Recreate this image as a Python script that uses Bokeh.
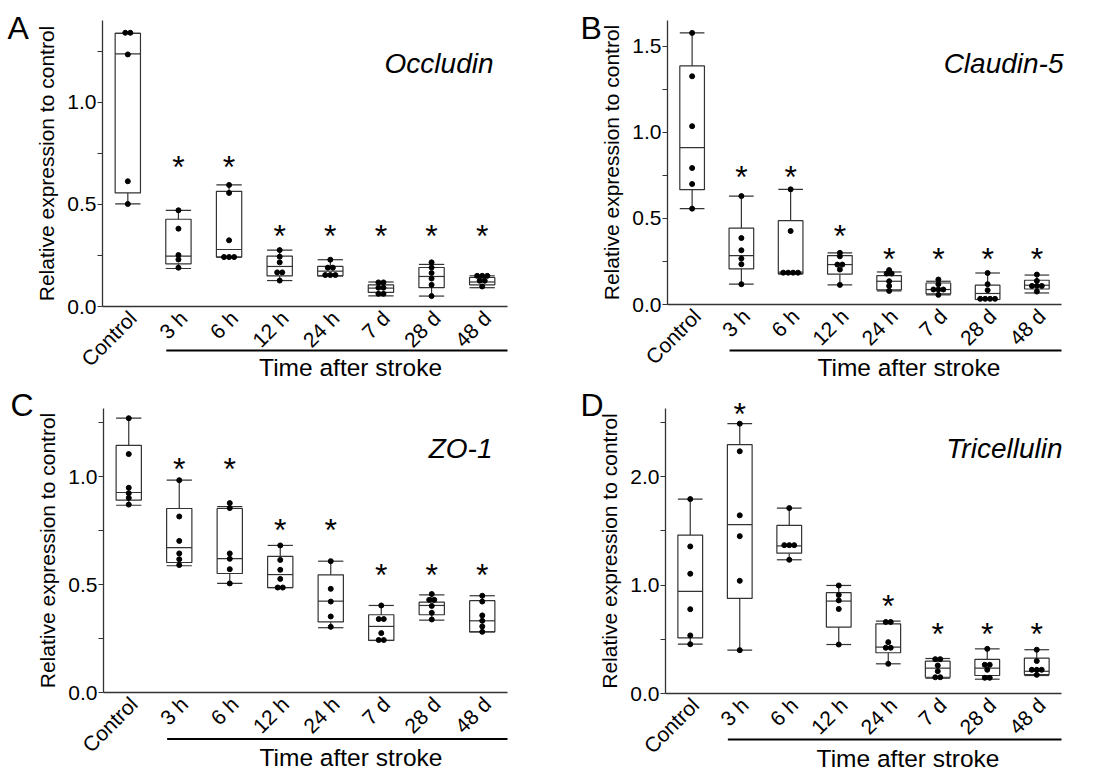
import numpy as np
from bokeh.plotting import figure
from bokeh.models import FixedTicker, Range1d, ColumnDataSource, PrintfTickFormatter
from bokeh.core.properties import value
from bokeh.layouts import column, row
from bokeh.embed import file_html
from bokeh.resources import INLINE

categories = ["Control", "3 h", "6 h", "12 h", "24 h", "7 d", "28 d", "48 d"]
x_title = "Time after stroke"
y_title = "Relative expression to control"

# ---------------- A: Occludin ----------------
occludin_points = [
    [1.34, 1.34, 1.234, 0.613, 0.502],
    [0.471, 0.381, 0.252, 0.230, 0.190],
    [0.595, 0.556, 0.324, 0.242, 0.242, 0.242],
    [0.276, 0.244, 0.216, 0.167, 0.167, 0.127],
    [0.229, 0.19, 0.19, 0.154, 0.154, 0.154],
    [0.118, 0.118, 0.092, 0.092, 0.062, 0.062],
    [0.216, 0.191, 0.164, 0.137, 0.106, 0.051],
    [0.150, 0.150, 0.150, 0.126, 0.126, 0.098],
]
occludin_lo = [0.502, 0.186, 0.242, 0.127, 0.150, 0.052, 0.051, 0.092]
occludin_q1 = [0.556, 0.209, 0.242, 0.150, 0.150, 0.069, 0.092, 0.106]
occludin_med = [1.237, 0.247, 0.279, 0.196, 0.173, 0.090, 0.147, 0.120]
occludin_q3 = [1.337, 0.427, 0.564, 0.247, 0.196, 0.106, 0.191, 0.142]
occludin_hi = [1.337, 0.471, 0.595, 0.276, 0.229, 0.120, 0.206, 0.150]
occludin_star = [None, 0.698, 0.698, 0.358, 0.358, 0.358, 0.358, 0.358]

# ---------------- B: Claudin-5 ----------------
claudin_points = [
    [1.578, 1.326, 1.036, 0.793, 0.70, 0.557],
    [0.63, 0.386, 0.315, 0.267, 0.234, 0.118],
    [0.669, 0.427, 0.185, 0.185, 0.185, 0.185],
    [0.30, 0.28, 0.232, 0.232, 0.203, 0.114],
    [0.20, 0.18, 0.18, 0.135, 0.108, 0.079],
    [0.145, 0.118, 0.087, 0.087, 0.087, 0.056],
    [0.183, 0.118, 0.083, 0.033, 0.033, 0.033, 0.033],
    [0.174, 0.137, 0.108, 0.108, 0.108, 0.075],
]
claudin_lo = [0.557, 0.118, 0.178, 0.114, 0.079, 0.056, 0.029, 0.067]
claudin_q1 = [0.667, 0.207, 0.178, 0.176, 0.085, 0.062, 0.029, 0.090]
claudin_med = [0.912, 0.284, 0.188, 0.232, 0.135, 0.087, 0.064, 0.112]
claudin_q3 = [1.386, 0.444, 0.487, 0.284, 0.168, 0.125, 0.112, 0.141]
claudin_hi = [1.578, 0.630, 0.669, 0.300, 0.189, 0.135, 0.183, 0.171]
claudin_star = [None, 0.756, 0.756, 0.415, 0.28, 0.28, 0.28, 0.28]

# ---------------- C: ZO-1 ----------------
zo1_points = [
    [1.27, 1.104, 0.948, 0.923, 0.901, 0.870],
    [0.983, 0.815, 0.702, 0.644, 0.617, 0.59],
    [0.877, 0.854, 0.644, 0.619, 0.571, 0.505],
    [0.681, 0.614, 0.568, 0.526, 0.486, 0.486],
    [0.608, 0.48, 0.421, 0.352, 0.304],
    [0.403, 0.34, 0.34, 0.275, 0.243, 0.243],
    [0.456, 0.429, 0.429, 0.401, 0.369, 0.338],
    [0.448, 0.421, 0.357, 0.332, 0.306, 0.281],
]
zo1_lo = [0.867, 0.587, 0.505, 0.486, 0.300, 0.241, 0.335, 0.281]
zo1_q1 = [0.891, 0.602, 0.551, 0.486, 0.327, 0.241, 0.360, 0.281]
zo1_med = [0.926, 0.671, 0.620, 0.546, 0.423, 0.306, 0.403, 0.332]
zo1_q3 = [1.144, 0.852, 0.852, 0.630, 0.545, 0.360, 0.418, 0.425]
zo1_hi = [1.270, 0.983, 0.861, 0.681, 0.608, 0.403, 0.452, 0.448]
zo1_star = [None, 1.048, 1.048, 0.764, 0.764, 0.56, 0.56, 0.56]

# ---------------- D: Tricellulin ----------------
tric_points = [
    [1.794, 1.357, 1.105, 0.778, 0.536, 0.455],
    [2.49, 2.235, 1.644, 1.452, 1.04, 0.40],
    [1.711, 1.369, 1.369, 1.369, 1.234],
    [0.997, 0.909, 0.859, 0.78, 0.452],
    [0.66, 0.66, 0.474, 0.422, 0.422, 0.274],
    [0.317, 0.317, 0.259, 0.206, 0.15, 0.15],
    [0.412, 0.265, 0.265, 0.219, 0.145, 0.145],
    [0.404, 0.30, 0.219, 0.219, 0.219, 0.172],
]
tric_lo = [0.455, 0.400, 1.234, 0.452, 0.274, 0.141, 0.132, 0.166]
tric_q1 = [0.514, 0.877, 1.295, 0.613, 0.376, 0.150, 0.166, 0.175]
tric_med = [0.942, 1.558, 1.362, 0.853, 0.428, 0.234, 0.234, 0.205]
tric_q3 = [1.462, 2.296, 1.551, 0.930, 0.643, 0.298, 0.314, 0.326]
tric_hi = [1.794, 2.490, 1.711, 0.997, 0.668, 0.323, 0.412, 0.404]
tric_star = [None, 2.61, None, None, 0.837, 0.58, 0.58, 0.58]

FONT = "Liberation Sans"
LINE = "#333333"


def make_panel(letter, gene, pts, lo, q1, med, q3, hi, stars, y_top,
               major, minor, width, height, box, letter_xy, gene_xy,
               bar_y, title_y):
    # box: pixel edges (left, right, top, bottom) of the axes inside the figure
    fl, fr, ft, fb = box
    n = len(categories)
    xppu = (fr - fl) / n
    yppu = (fb - ft) / y_top
    x0 = -0.5 - fl / xppu
    x1 = n - 0.5 + (width - fr) / xppu
    y0 = -(height - fb) / yppu
    y1 = y_top + ft / yppu

    def dx(px_):
        return x0 + px_ / xppu

    def dy(py_):
        return y1 - py_ / yppu

    def base(py_, fs):
        # place a text so that its baseline lands near pixel row py_
        return dy(py_ - 0.32 * fs)

    p = figure(width=width, height=height, x_range=Range1d(x0, x1),
               y_range=Range1d(y0, y1), output_backend="svg",
               toolbar_location=None, min_border=0)
    p.xgrid.visible = False
    p.ygrid.visible = False
    p.outline_line_color = None
    p.background_fill_color = "white"
    p.border_fill_color = "white"

    x = np.arange(n, dtype=float)
    hw = 0.25
    src = ColumnDataSource(dict(x=x, l=x - hw, r=x + hw, lo=lo, q1=q1,
                                med=med, q3=q3, hi=hi))
    lw = 1.2
    p.segment(x0="x", y0="q3", x1="x", y1="hi", source=src, line_color=LINE, line_width=lw)
    p.segment(x0="x", y0="lo", x1="x", y1="q1", source=src, line_color=LINE, line_width=lw)
    p.segment(x0="l", y0="hi", x1="r", y1="hi", source=src, line_color=LINE, line_width=lw)
    p.segment(x0="l", y0="lo", x1="r", y1="lo", source=src, line_color=LINE, line_width=lw)
    p.quad(left="l", right="r", bottom="q1", top="q3", source=src,
           fill_color=None, line_color=LINE, line_width=lw)
    p.segment(x0="l", y0="med", x1="r", y1="med", source=src, line_color=LINE, line_width=lw)

    px, py = [], []
    for i, vals in enumerate(pts):
        groups = {}
        for v in vals:
            groups[v] = groups.get(v, 0) + 1
        for v, m in groups.items():
            for k in range(m):
                px.append(i + (k - (m - 1) / 2.0) * 0.1)
                py.append(v)
    p.scatter(px, py, size=5, color="black")

    sx = [i for i, s in enumerate(stars) if s is not None]
    sy = [s for s in stars if s is not None]
    p.text(sx, sy, text=["*"] * len(sx), text_align="center",
           text_baseline="middle", text_font_size="32px", text_font=value(FONT),
           text_color="black", y_offset=3)

    ax = p.yaxis[0]
    ax.fixed_location = -0.5
    ax.bounds = (0, y_top)
    ax.ticker = FixedTicker(ticks=major, minor_ticks=minor)
    ax.formatter = PrintfTickFormatter(format="%.1f")
    ax.axis_label = y_title
    ax.axis_label_text_font = FONT
    ax.axis_label_text_font_style = "normal"
    ax.axis_label_text_font_size = "21px"
    ax.axis_label_text_color = "black"
    ax.axis_label_standoff = 6
    ax.major_label_text_font = FONT
    ax.major_label_text_font_size = "21px"
    ax.major_label_text_color = "black"
    ax.major_label_standoff = 1
    ax.major_tick_in = 0
    ax.major_tick_out = 5
    ax.minor_tick_in = 0
    ax.minor_tick_out = 5
    ax.axis_line_color = LINE
    ax.major_tick_line_color = LINE
    ax.minor_tick_line_color = LINE
    ax.axis_line_width = 1.3

    bx = p.xaxis[0]
    bx.fixed_location = 0
    bx.bounds = (-0.5, n - 0.5)
    tick_pos = [round(i + 0.1, 2) for i in range(n)]
    bx.ticker = FixedTicker(ticks=tick_pos)
    bx.major_label_overrides = {t: c for t, c in zip(tick_pos, categories)}
    bx.major_label_orientation = np.pi / 4
    bx.major_label_text_font = FONT
    bx.major_label_text_font_size = "21px"
    bx.major_label_text_color = "black"
    bx.major_tick_line_color = None
    bx.minor_tick_line_color = None
    bx.major_tick_out = 0
    bx.major_tick_in = 0
    bx.major_label_standoff = 8
    bx.axis_line_color = LINE
    bx.axis_line_width = 1.3

    # gene name (italic), panel letter, "Time after stroke" bar and title
    p.text([dx(gene_xy[0])], [base(gene_xy[1], 28)], text=[gene], text_align="right",
           text_baseline="alphabetic", text_font=value(FONT),
           text_font_style="italic", text_font_size="28px", text_color="black")
    p.text([dx(letter_xy[0])], [base(letter_xy[1], 32)], text=[letter],
           text_align="left", text_baseline="alphabetic", text_font=value(FONT),
           text_font_size="32px", text_color="black")
    p.segment(x0=[0.76], y0=[dy(bar_y)], x1=[n - 0.5], y1=[dy(bar_y)],
              line_color="black", line_width=2)
    p.text([4.4], [base(title_y, 24.5)], text=[x_title], text_align="center",
           text_baseline="alphabetic", text_font=value(FONT),
           text_font_size="24.5px", text_color="black")
    return p


pa = make_panel("A", "Occludin", occludin_points, occludin_lo, occludin_q1,
                occludin_med, occludin_q3, occludin_hi, occludin_star, 1.40,
                [0, 0.5, 1.0], [0.25, 0.75, 1.25], 545, 385,
                (102, 507, 20, 306), (7, 38), (493, 71.7), 350, 375)
pb = make_panel("B", "Claudin-5", claudin_points, claudin_lo, claudin_q1,
                claudin_med, claudin_q3, claudin_hi, claudin_star, 1.65,
                [0, 0.5, 1.0, 1.5], [0.25, 0.75, 1.25], 553, 385,
                (122, 516, 20, 304), (35, 38), (518, 71.7), 350, 375)
pc = make_panel("C", "ZO-1", zo1_points, zo1_lo, zo1_q1, zo1_med, zo1_q3,
                zo1_hi, zo1_star, 1.315,
                [0, 0.5, 1.0], [0.25, 0.75, 1.25], 545, 386,
                (103, 507, 23, 307), (10, 30), (492, 71.7), 353.5, 380)
pd_ = make_panel("D", "Tricellulin", tric_points, tric_lo, tric_q1, tric_med,
                 tric_q3, tric_hi, tric_star, 2.63,
                 [0, 1.0, 2.0], [0.5, 1.5, 2.5], 553, 386,
                 (120, 516, 23, 308), (35, 30), (517, 71.7), 354, 381)

layout = column(row(pa, pb), row(pc, pd_))
open("out.html", "w").write(file_html(layout, INLINE))
